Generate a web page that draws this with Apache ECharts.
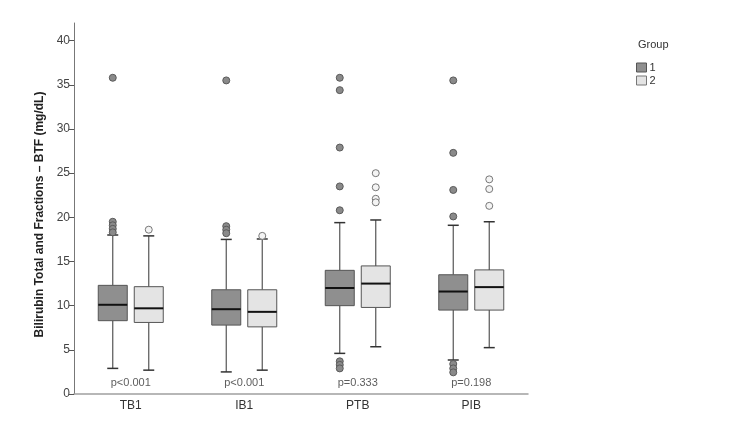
<!DOCTYPE html>
<html>
<head>
<meta charset="utf-8">
<script src="https://cdn.jsdelivr.net/npm/echarts@6/dist/echarts.min.js"></script>
<style>
  html, body { margin: 0; padding: 0; background: #fff; }
  #chart { width: 738px; height: 435px; }
</style>
</head>
<body>
<div id="chart"></div>
<script>
// categories and p-values shown under each pair
const categories = ["TB1", "IB1", "PTB", "PIB"];
const pLabels = ["p<0.001", "p<0.001", "p=0.333", "p=0.198"];

// [lower whisker, Q1, median, Q3, upper whisker]
const group1Boxes = [
  [2.9, 8.3, 10.1, 12.3, 18.0],
  [2.5, 7.8, 9.6, 11.8, 17.5],
  [4.6, 10.0, 12.0, 14.0, 19.4],
  [3.85, 9.5, 11.6, 13.5, 19.1],
];
const group2Boxes = [
  [2.7, 8.1, 9.7, 12.15, 17.9],
  [2.7, 7.6, 9.3, 11.8, 17.55],
  [5.35, 9.8, 12.5, 14.5, 19.7],
  [5.25, 9.5, 12.1, 14.05, 19.5],
];

// outliers per category
const group1Outliers = [
  [35.8, 19.5, 19.1, 18.7, 18.3],
  [35.5, 19.0, 18.6, 18.2],
  [35.8, 34.4, 27.9, 23.5, 20.8, 3.7, 3.3, 2.9],
  [35.5, 27.3, 23.1, 20.1, 3.4, 2.9, 2.45],
];
const group2Outliers = [
  [18.6],
  [17.9],
  [25.0, 23.4, 22.1, 21.7],
  [24.3, 23.2, 21.3],
];

const yTicks = [0, 5, 10, 15, 20, 25, 30, 35, 40];

const groupOffset = 18;
const boxHalf = 14.5;
const capHalf = 5.5;

function boxRenderer(offset, fill) {
  return function (params, api) {
    const i = api.value(0);
    const pt = (v) => {
      const p = api.coord([i, v]);
      return [p[0] + offset, p[1]];
    };
    const lo = pt(api.value(1));
    const q1 = pt(api.value(2));
    const med = pt(api.value(3));
    const q3 = pt(api.value(4));
    const hi = pt(api.value(5));
    const x = lo[0];
    const whisker = { stroke: "#555", lineWidth: 1.2 };
    return {
      type: "group",
      children: [
        { type: "line", shape: { x1: x, y1: hi[1], x2: x, y2: q3[1] }, style: whisker },
        { type: "line", shape: { x1: x, y1: q1[1], x2: x, y2: lo[1] }, style: whisker },
        { type: "line", shape: { x1: x - capHalf, y1: hi[1], x2: x + capHalf, y2: hi[1] }, style: { stroke: "#333", lineWidth: 1.5 } },
        { type: "line", shape: { x1: x - capHalf, y1: lo[1], x2: x + capHalf, y2: lo[1] }, style: { stroke: "#333", lineWidth: 1.5 } },
        {
          type: "rect",
          shape: { x: x - boxHalf, y: q3[1], width: boxHalf * 2, height: q1[1] - q3[1] },
          style: { fill: fill, stroke: "#555", lineWidth: 1 },
        },
        { type: "line", shape: { x1: x - boxHalf, y1: med[1], x2: x + boxHalf, y2: med[1] }, style: { stroke: "#111", lineWidth: 2 } },
      ],
    };
  };
}

function outlierPoints(list) {
  const pts = [];
  list.forEach((vals, i) => vals.forEach((v) => pts.push([i, v])));
  return pts;
}

const chart = echarts.init(document.getElementById("chart"));

chart.setOption({
  animation: false,
  backgroundColor: "#fff",
  textStyle: { fontFamily: "Liberation Sans, Arial, sans-serif" },
  graphic: [
    {
      type: "text",
      left: 638,
      top: 39,
      style: { text: "Group", fontSize: 11, fill: "#333", fontFamily: "Liberation Sans" },
    },
  ],
  legend: {
    orient: "vertical",
    left: 631,
    top: 57,
    itemWidth: 10,
    itemHeight: 9,
    itemGap: 2,
    textStyle: { fontSize: 11, color: "#333", padding: [0, 0, 0, -2] },
    data: [
      { name: "1", icon: "rect", itemStyle: { color: "#8f8f8f", borderColor: "#555", borderWidth: 1 } },
      { name: "2", icon: "rect", itemStyle: { color: "#e4e4e4", borderColor: "#777", borderWidth: 1 } },
    ],
  },
  grid: { left: 74, right: 210, top: 23, bottom: 41 },
  xAxis: {
    type: "category",
    data: categories,
    axisLine: { lineStyle: { color: "#a0a0a0", width: 1.5 } },
    axisTick: { alignWithLabel: true, length: 5, lineStyle: { color: "#555" } },
    axisLabel: { color: "#333", fontSize: 12, margin: 6 },
  },
  yAxis: {
    type: "value",
    min: 0,
    max: 42,
    interval: 5,
    name: "Bilirubin Total and Fractions – BTF (mg/dL)",
    nameLocation: "middle",
    nameGap: 27,
    nameTextStyle: { fontSize: 12, fontWeight: "bold", color: "#222", padding: [0, 12, 0, 0] },
    axisLine: { show: true, lineStyle: { color: "#777" } },
    axisTick: { show: true, length: 5, customValues: yTicks, lineStyle: { color: "#555" } },
    axisLabel: { color: "#444", fontSize: 12, margin: 4, customValues: yTicks },
    splitLine: { show: false },
  },
  series: [
    {
      name: "1",
      type: "custom",
      renderItem: boxRenderer(-groupOffset, "#8f8f8f"),
      encode: { x: 0, y: [1, 2, 3, 4, 5] },
      data: group1Boxes.map((b, i) => [i].concat(b)),
      z: 2,
    },
    {
      name: "2",
      type: "custom",
      renderItem: boxRenderer(groupOffset, "#e4e4e4"),
      encode: { x: 0, y: [1, 2, 3, 4, 5] },
      data: group2Boxes.map((b, i) => [i].concat(b)),
      z: 2,
    },
    {
      name: "1",
      type: "scatter",
      symbolSize: 7,
      symbolOffset: [-groupOffset, 0],
      itemStyle: { color: "#8a8a8a", borderColor: "#5a5a5a", borderWidth: 1, opacity: 1 },
      data: outlierPoints(group1Outliers),
      z: 3,
    },
    {
      name: "2",
      type: "scatter",
      symbolSize: 7,
      symbolOffset: [groupOffset, 0],
      itemStyle: { color: "#f4f4f4", borderColor: "#777", borderWidth: 1, opacity: 1 },
      data: outlierPoints(group2Outliers),
      z: 3,
    },
    {
      type: "scatter",
      symbolSize: 1,
      itemStyle: { color: "transparent" },
      silent: true,
      label: {
        show: true,
        position: "inside",
        color: "#333",
        fontSize: 11,
        formatter: (p) => pLabels[p.dataIndex],
      },
      data: categories.map((c, i) => [i, 1.25]),
      z: 4,
    },
  ],
});
</script>
</body>
</html>
